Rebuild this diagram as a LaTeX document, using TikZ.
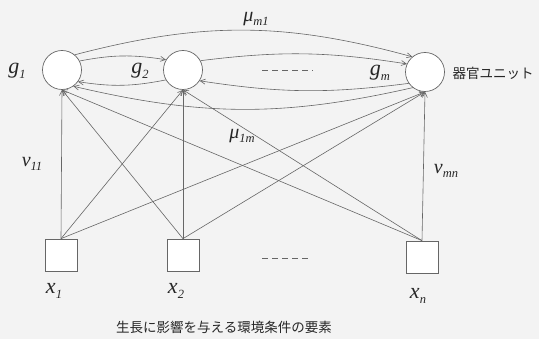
\documentclass[tikz,border=0pt]{standalone}
\usepackage{fontspec}
\setmainfont{Liberation Serif}
\newfontfamily\jpfont{Noto Sans CJK JP}
\usetikzlibrary{arrows.meta, positioning, calc}
\definecolor{linegray}{HTML}{666666}
\definecolor{inkgray}{HTML}{262626}
\definecolor{papergray}{HTML}{F3F3F3}
\newcommand{\idx}[1]{\raisebox{-0.45ex}{\fontsize{12.5}{12.5}\selectfont\itshape #1}}
\tikzset{
  unit/.style={circle, draw=linegray, fill=white, minimum size=39pt, inner sep=0pt, line width=0.7pt},
  factor/.style={rectangle, draw=linegray, fill=white, minimum size=32pt, inner sep=0pt, line width=0.7pt},
  link/.style={draw=linegray, line width=0.6pt, -{Straight Barb[length=5pt,width=5pt]}},
  bigmath/.style={font=\fontsize{22}{24}\selectfont\itshape, text=inkgray, inner sep=0pt},
  midmath/.style={font=\fontsize{20}{22}\selectfont\itshape, text=inkgray, inner sep=0pt},
  jptext/.style={font=\jpfont\fontsize{13.5}{15}\selectfont, text=inkgray, inner sep=0pt}
}

\begin{document}
\begin{tikzpicture}[x=1pt, y=1pt]
  % papel
  \fill[papergray] (0,0) rectangle (539,339);
  \useasboundingbox (0,0) rectangle (539,339);
  % unidades de organo
  \node[unit] (g1) at (62,269) {};
  \node[unit] (g2) at (183,269) {};
  \node[unit] (gm) at (425,267) {};
  % factores del entorno
  \node[factor] (x1) at (61,84) {};
  \node[factor] (x2) at (183,84) {};
  \node[factor] (xn) at (422,82) {};
  % etiquetas
  \node[bigmath] (lg1) at (17,268) {g\idx{1}};
  \node[bigmath] (lg2) at (140,268) {g\idx{2}};
  \node[bigmath] (lgm) at (380,266) {g\idx{m}};
  \node[jptext] (lunit) at (493,266) {器官ユニット};
  \node[bigmath] (lx1) at (54,48) {x\idx{1}};
  \node[bigmath] (lx2) at (176,48) {x\idx{2}};
  \node[bigmath] (lxn) at (418,43) {x\idx{n}};
  \node[jptext] (lfactor) at (224,12) {生長に影響を与える環境条件の要素};
  \node[midmath] (lmu1) at (256,320) {μ\idx{m1}};
  \node[midmath] (lmu2) at (242,203) {μ\idx{1m}};
  \node[midmath] (lv1) at (32,175) {v\idx{11}};
  \node[midmath] (lv2) at (446,168) {v\idx{mn}};
  % puntos suspensivos
  \draw[linegray, line width=0.6pt, dash pattern=on 6pt off 4pt] (262,269) -- (313,269);
  \draw[linegray, line width=0.6pt, dash pattern=on 6pt off 4pt] (262,81) -- (308,81);
  % influencia de cada factor
  \foreach \f in {x1,x2,xn}
    \foreach \g in {g1,g2,gm}
      \draw[link] (\f.north) -- (\g.south);
  % interaccion entre unidades
  \draw[link] (g1.50) to[bend left=15] (gm.130);
  \draw[link] (g1.27) to[bend left=10] (g2.149);
  \draw[link] (g2.28) to[bend left=8] (gm.156);
  \draw[link] (gm.215) to[bend left=8] (g2.-33);
  \draw[link] (g2.210) to[bend left=10] (g1.-36);
  \draw[link] (gm.232) to[bend left=13] (g1.-55);
\end{tikzpicture}
\end{document}
